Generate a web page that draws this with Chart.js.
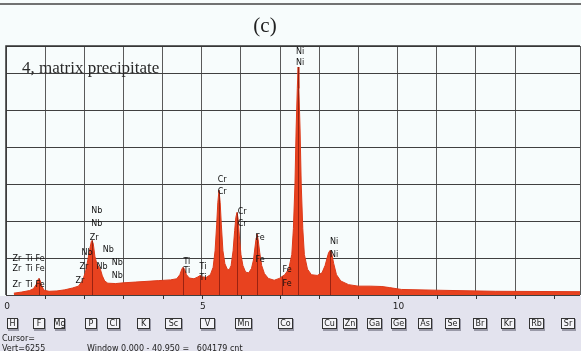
<!DOCTYPE html>
<html><head><meta charset="utf-8">
<script src="https://cdn.jsdelivr.net/npm/chart.js@4.4.1/dist/chart.umd.min.js"></script>
<style>html,body{margin:0;padding:0;background:#f7fcfc;}canvas{display:block}</style>
</head><body>
<canvas id="c" width="581" height="351"></canvas>
<script>
// ---- spectrum data (energy in keV, intensity in grid units) ----
const energyKeV = [0.20,0.40,0.60,0.70,0.77,0.81,0.84,0.87,0.91,0.97,1.10,1.30,1.50,1.70,1.85,1.95,2.03,2.09,2.14,2.18,2.20,2.23,2.27,2.32,2.37,2.41,2.46,2.52,2.60,2.80,3.00,3.30,3.60,3.90,4.20,4.36,4.44,4.49,4.52,4.56,4.61,4.68,4.80,4.90,4.96,5.02,5.12,5.22,5.29,5.34,5.38,5.41,5.44,5.47,5.50,5.54,5.59,5.65,5.70,5.75,5.80,5.84,5.87,5.90,5.93,5.96,6.00,6.05,6.12,6.20,6.27,6.32,6.36,6.39,6.41,6.44,6.48,6.53,6.60,6.70,6.85,6.98,7.05,7.12,7.22,7.30,7.34,7.38,7.41,7.44,7.46,7.48,7.51,7.54,7.58,7.62,7.70,7.80,7.95,8.07,8.15,8.20,8.24,8.28,8.32,8.37,8.44,8.55,8.75,9.00,9.30,9.60,9.80,10.10,11.00,12.50,14.66];
const intensity = [0.05,0.08,0.12,0.17,0.28,0.40,0.45,0.40,0.25,0.13,0.10,0.11,0.14,0.19,0.24,0.38,0.62,0.95,1.25,1.45,1.48,1.38,1.05,0.85,0.76,0.70,0.52,0.38,0.32,0.31,0.33,0.35,0.37,0.39,0.41,0.44,0.55,0.70,0.75,0.70,0.55,0.46,0.44,0.49,0.53,0.49,0.48,0.55,0.75,1.20,1.90,2.50,2.84,2.50,1.90,1.20,0.85,0.70,0.68,0.80,1.20,1.75,2.10,2.24,2.05,1.60,1.10,0.80,0.62,0.60,0.72,0.95,1.30,1.55,1.65,1.50,1.15,0.80,0.58,0.45,0.40,0.45,0.50,0.55,0.70,1.10,1.80,3.00,4.50,5.60,6.18,5.60,4.50,3.00,1.80,1.10,0.70,0.55,0.53,0.60,0.80,1.00,1.15,1.21,1.12,0.85,0.55,0.38,0.28,0.24,0.24,0.23,0.20,0.15,0.13,0.10,0.09];

// ---- axis tick labels ----
const tickValues = [0,5,10];
const tickLabels = ['0','5','10'];

// ---- peak identification labels ----
const peakText  = ['Ni','Ni','Cr','Cr','Cr','Cr','Fe','Fe','Fe','Fe','Ni','Ni','Ti','Ti','Ti','Ti','Nb','Nb','Zr','Nb','Nb','Zr','Nb','Nb','Nb','Zr','Zr','Ti','Fe','Zr','Ti','Fe','Zr','Ti','Fe'];
const peakKeV   = [7.51,7.51,5.52,5.52,6.03,6.03,6.49,6.49,7.18,7.18,8.38,8.38,4.62,4.62,5.03,5.03,2.32,2.32,2.25,2.61,2.07,1.99,2.45,2.84,2.84,1.89,0.28,0.59,0.87,0.28,0.59,0.87,0.28,0.59,0.87];
const peakLevel = [6.59,6.29,3.11,2.79,2.24,1.92,1.54,0.94,0.69,0.31,1.45,1.10,0.91,0.64,0.75,0.45,2.27,1.94,1.54,1.21,1.13,0.75,0.77,0.88,0.53,0.39,0.99,0.99,0.99,0.72,0.72,0.72,0.26,0.26,0.26];

// ---- marker lines (peak centres, heights) ----
const markerKeV   = [0.84,2.20,4.52,4.96,5.44,5.90,6.41,7.05,7.46,8.28];
const markerLevel = [0.45,1.48,0.75,0.53,2.84,2.24,1.65,0.50,6.18,1.21];

// ---- element buttons ----
const buttonLabels = ['H','F','Mg','P','Cl','K','Sc','V','Mn','Co','Cu','Zn','Ga','Ge','As','Se','Br','Kr','Rb','Sr'];
const buttonLeft   = [7,33,54,85,107,137,165,200,235,278,322,343,367,391,418,445,473,501,529,561];
const buttonRight  = [18,45,65,97,120,150,182,215,252,293,337,357,382,406,432,460,487,515,544,575];

const decor = {
  id:'decor',
  beforeDraw(chart){
    const ctx = chart.ctx;
    ctx.save();
    ctx.fillStyle = '#f7fcfc';
    ctx.fillRect(0,0,chart.width,chart.height);
    ctx.restore();
  },
  afterDatasetsDraw(chart){
    const ctx = chart.ctx, xs = chart.scales.x, ys = chart.scales.y;
    ctx.save();
    ctx.strokeStyle = 'rgba(90,10,5,0.55)';
    ctx.lineWidth = 1;
    markerKeV.forEach((e,i)=>{
      const x = Math.round(xs.getPixelForValue(e))+0.5;
      ctx.beginPath();
      ctx.moveTo(x, ys.getPixelForValue(0));
      ctx.lineTo(x, ys.getPixelForValue(markerLevel[i]));
      ctx.stroke();
    });
    ctx.restore();
  },
  afterDraw(chart){
    const ctx = chart.ctx, xs = chart.scales.x, ys = chart.scales.y, a = chart.chartArea;
    ctx.save();
    // bottom strip
    ctx.fillStyle = '#e3e3ee';
    ctx.fillRect(0, a.bottom+1, chart.width, chart.height - a.bottom);
    // frame
    ctx.strokeStyle = '#333';
    ctx.lineWidth = 1.5;
    ctx.beginPath();
    ctx.moveTo(a.left, a.bottom); ctx.lineTo(a.left, a.top); ctx.lineTo(a.right, a.top);
    ctx.stroke();
    // top cut line
    ctx.strokeStyle = '#444';
    ctx.lineWidth = 1.5;
    ctx.beginPath(); ctx.moveTo(0,4); ctx.lineTo(chart.width,4); ctx.stroke();
    // tick marks
    ctx.strokeStyle = '#333';
    ctx.lineWidth = 1;
    for (let v=1; v<=14; v++){
      const x = Math.round(xs.getPixelForValue(v))+0.5;
      ctx.beginPath(); ctx.moveTo(x, a.bottom); ctx.lineTo(x, a.bottom+4); ctx.stroke();
    }
    // tick labels
    ctx.fillStyle = '#222';
    ctx.font = '9px "DejaVu Sans", sans-serif';
    ctx.textAlign = 'center'; ctx.textBaseline = 'middle';
    tickValues.forEach((v,i)=>ctx.fillText(tickLabels[i], xs.getPixelForValue(v)+1, 307));
    // peak labels
    ctx.font = '8px "DejaVu Sans", sans-serif';
    ctx.fillStyle = '#111';
    peakText.forEach((t,i)=>ctx.fillText(t, xs.getPixelForValue(peakKeV[i]), ys.getPixelForValue(peakLevel[i])));
    // buttons
    ctx.font = '8px "DejaVu Sans", sans-serif';
    buttonLabels.forEach((t,i)=>{
      const l = buttonLeft[i], r = buttonRight[i];
      ctx.fillStyle = '#9a9aa8';
      ctx.fillRect(l+1, 319, r-l, 12);
      ctx.fillStyle = '#f4f4f8';
      ctx.fillRect(l, 318, r-l, 11);
      ctx.strokeStyle = '#333'; ctx.lineWidth = 1;
      ctx.strokeRect(l+0.5, 318.5, r-l-1, 10);
      ctx.fillStyle = '#222';
      ctx.fillText(t, (l+r)/2, 324);
    });
    // status text
    ctx.textAlign = 'left';
    ctx.font = '8px "DejaVu Sans", sans-serif';
    ctx.fillStyle = '#222';
    ctx.fillText('Cursor=', 2, 339);
    ctx.fillText('Vert=6255', 2, 349);
    ctx.fillText('Window 0.000 - 40.950 =   604179 cnt', 87, 349);
    // captions
    ctx.textAlign = 'center';
    ctx.font = '21px "Liberation Serif", "DejaVu Serif", serif';
    ctx.fillStyle = '#222';
    ctx.fillText('(c)', 265, 26);
    ctx.textAlign = 'left';
    ctx.font = '17px "Liberation Serif", "DejaVu Serif", serif';
    ctx.fillStyle = '#2a2a2a';
    ctx.fillText('4, matrix precipitate', 22, 69);
    ctx.restore();
  }
};

new Chart(document.getElementById('c'), {
  type: 'line',
  data: { datasets: [{
    data: energyKeV.map((e,i)=>({x:e, y:intensity[i]})),
    fill: 'origin',
    backgroundColor: '#e8421f',
    borderColor: '#dd3a1a',
    borderWidth: 1,
    pointRadius: 0,
    tension: 0
  }]},
  options: {
    responsive: false,
    animation: false,
    devicePixelRatio: 1,
    layout: { padding: { left: 6, right: 1, top: 46, bottom: 56 } },
    plugins: { legend: { display: false }, tooltip: { enabled: false } },
    scales: {
      x: { type: 'linear', min: 0, max: 14.66, z: 1,
           ticks: { display: false, stepSize: 1 },
           grid: { color: '#5a5a5a', lineWidth: 1, drawTicks: false },
           border: { display: false } },
      y: { min: 0, max: 6.75, z: 1,
           ticks: { display: false, stepSize: 1 },
           grid: { color: '#404040', lineWidth: 1, drawTicks: false },
           border: { display: false } }
    }
  },
  plugins: [decor]
});
</script>
</body></html>
